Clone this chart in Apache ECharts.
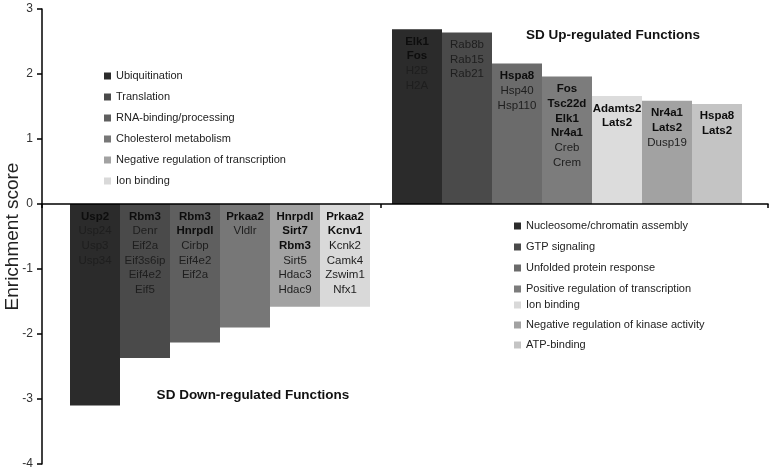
<!DOCTYPE html>
<html>
<head>
<meta charset="utf-8">
<script src="https://cdn.jsdelivr.net/npm/echarts@6/dist/echarts.min.js"></script>
<style>html,body{margin:0;padding:0;background:#fff}#c{width:771px;height:472px}</style>
</head>
<body>
<div id="c"></div>
<script>
// ---- data ----
const downNames = ['Ubiquitination','Translation','RNA-binding/processing','Cholesterol metabolism','Negative regulation of transcription','Ion binding'];
const downValues = [-3.10, -2.37, -2.13, -1.90, -1.58, -1.58];
const downGenes = [
  ['Usp2','Usp24','Usp3','Usp34'],
  ['Rbm3','Denr','Eif2a','Eif3s6ip','Eif4e2','Eif5'],
  ['Rbm3','Hnrpdl','Cirbp','Eif4e2','Eif2a'],
  ['Prkaa2','Vldlr'],
  ['Hnrpdl','Sirt7','Rbm3','Sirt5','Hdac3','Hdac9'],
  ['Prkaa2','Kcnv1','Kcnk2','Camk4','Zswim1','Nfx1']
];
const downBoldCount = [1,1,2,1,3,2];

const upNames = ['Nucleosome/chromatin assembly','GTP signaling','Unfolded protein response','Positive regulation of transcription','Ion binding','Negative regulation of kinase activity','ATP-binding'];
const upValues = [2.69, 2.64, 2.16, 1.96, 1.66, 1.59, 1.54];
const upGenes = [
  ['Elk1','Fos','H2B','H2A'],
  ['Rab8b','Rab15','Rab21'],
  ['Hspa8','Hsp40','Hsp110'],
  ['Fos','Tsc22d','Elk1','Nr4a1','Creb','Crem'],
  ['Adamts2','Lats2'],
  ['Nr4a1','Lats2','Dusp19'],
  ['Hspa8','Lats2']
];
const upBoldCount = [2,0,1,4,2,2,2];

const yTicks = {min: -4, max: 3, interval: 1};
const axisSlots = ['','','','','','','','','','','','','','',''];
const downTitle = 'SD Down-regulated Functions';
const upTitle = 'SD Up-regulated Functions';
const yName = 'Enrichment score';

// ---- styles ----
const downColors = ['#2b2b2b','#4a4a4a','#5f5f5f','#777777','#a2a2a2','#d9d9d9'];
const upColors = ['#2b2b2b','#4a4a4a','#6b6b6b','#7c7c7c','#dcdcdc','#a2a2a2','#c4c4c4'];
const FONT = 'Liberation Sans, Arial, sans-serif';

const rich = {
  b: {fontFamily: FONT, fontSize: 11.5, fontWeight: 'bold', color: '#0d0d0d', lineHeight: 14.7},
  n: {fontFamily: FONT, fontSize: 11.5, color: '#1e1e1e', lineHeight: 14.7}
};
function makeLabel(genes, nb) {
  return genes.map((g, k) => (k < nb ? '{b|' + g + '}' : '{n|' + g + '}')).join('\n');
}

const series = [];
downNames.forEach((name, i) => {
  series.push({
    name, type: 'bar', xAxisIndex: 1, yAxisIndex: 1, stack: 'down', barWidth: '100%',
    data: downValues.map((v, j) => (j === i ? v : '-')),
    itemStyle: {color: downColors[i]},
    label: {show: true, position: 'insideTop', distance: 5, formatter: makeLabel(downGenes[i], downBoldCount[i]), rich},
    emphasis: {disabled: true}, z: 2
  });
});
upNames.forEach((name, i) => {
  series.push({
    name, type: 'bar', xAxisIndex: 2, yAxisIndex: 2, stack: 'up', barWidth: '100%',
    data: upValues.map((v, j) => (j === i ? v : '-')),
    itemStyle: {color: upColors[i]},
    label: {show: true, position: 'insideTop', distance: 5, formatter: makeLabel(upGenes[i], upBoldCount[i]), rich},
    emphasis: {disabled: true}, z: 2
  });
});

const hiddenY = (gi) => ({type: 'value', gridIndex: gi, min: yTicks.min, max: yTicks.max, interval: yTicks.interval, show: false});
const legendBase = {
  orient: 'vertical', itemWidth: 7, itemHeight: 7, icon: 'rect', padding: 0, selectedMode: false,
  textStyle: {fontFamily: FONT, fontSize: 11, color: '#222', lineHeight: 12}
};

const option = {
  animation: false,
  textStyle: {fontFamily: FONT},
  grid: [
    {left: 42, right: 3, top: 9, bottom: 8, outerBoundsMode: 'none', containLabel: false},
    {left: 70, width: 300, top: 9, bottom: 8, outerBoundsMode: 'none'},
    {left: 392, width: 350, top: 9, bottom: 8, outerBoundsMode: 'none'}
  ],
  xAxis: [
    {type: 'category', gridIndex: 0, data: axisSlots, z: 10,
     axisLine: {onZero: true, lineStyle: {color: '#000', width: 1.6}},
     axisTick: {show: true, length: 4, interval: (i) => i === 0 || i === 7, lineStyle: {color: '#000', width: 1.5}},
     axisLabel: {show: false}, splitLine: {show: false}},
    {type: 'category', gridIndex: 1, data: downNames, show: false},
    {type: 'category', gridIndex: 2, data: upNames, show: false}
  ],
  yAxis: [
    {type: 'value', gridIndex: 0, min: yTicks.min, max: yTicks.max, interval: yTicks.interval,
     name: yName, nameLocation: 'middle', nameGap: 20, nameMoveOverlap: false,
     nameTextStyle: {fontFamily: FONT, fontSize: 19, color: '#222'},
     axisLine: {show: true, lineStyle: {color: '#000', width: 1.5}},
     axisTick: {show: true, length: 5, lineStyle: {color: '#000', width: 1.5}},
     axisLabel: {fontFamily: FONT, fontSize: 12, color: '#333', margin: 9},
     splitLine: {show: false}},
    hiddenY(1), hiddenY(2)
  ],
  legend: [
    Object.assign({}, legendBase, {data: downNames, left: 104, top: 70, itemGap: 9}),
    Object.assign({}, legendBase, {data: upNames.slice(0, 4), left: 514, top: 220, itemGap: 9}),
    Object.assign({}, legendBase, {data: upNames.slice(4), left: 514, top: 299, itemGap: 8})
  ],
  graphic: [
    {type: 'text', x: 613, y: 35, style: {text: upTitle, font: 'bold 13.5px ' + FONT, fill: '#111', align: 'center', verticalAlign: 'middle'}},
    {type: 'text', x: 253, y: 395, style: {text: downTitle, font: 'bold 13.5px ' + FONT, fill: '#111', align: 'center', verticalAlign: 'middle'}}
  ],
  series
};

const chart = echarts.init(document.getElementById('c'), null, {renderer: 'canvas'});
chart.setOption(option);
</script>
</body>
</html>
